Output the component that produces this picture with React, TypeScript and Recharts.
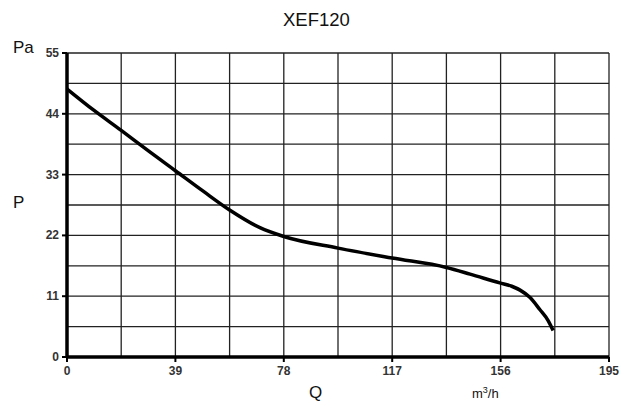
import { LineChart, Line, XAxis, YAxis, CartesianGrid } from 'recharts';

const flow = [0, 9.5, 19.5, 28.7, 39, 49, 58.5, 69.4, 78, 97.5, 117, 136.5, 145, 155.7, 160, 163, 166.5, 170.1, 173.1, 174.9];
const pressure = [48.5, 44.7, 41.0, 37.5, 33.7, 30.0, 26.6, 23.4, 21.8, 19.7, 17.9, 16.2, 15.0, 13.4, 12.8, 12.1, 10.8, 8.6, 6.6, 4.8];

const xGrid = [0, 19.5, 39, 58.5, 78, 97.5, 117, 136.5, 156, 175.5, 195];
const yGrid = [0, 5.5, 11, 16.5, 22, 27.5, 33, 38.5, 44, 49.5, 55];
const xLabels = [0, 39, 78, 117, 156, 195];
const yLabels = [0, 11, 22, 33, 44, 55];

const data = flow.map((q, i) => ({ q, p: pressure[i] }));

const font = '"Liberation Sans", Arial, sans-serif';

const XTick = (props: any) => {
  const { x, y, payload } = props;
  if (!xLabels.includes(payload.value)) return null;
  return (
    <g>
      <line x1={x} x2={x} y1={y - 8} y2={y - 3} stroke="#000" strokeWidth={2} />
      <text x={x} y={y + 10} textAnchor="middle" fontSize={12} fontWeight="bold" fontFamily={font} fill="#333">
        {payload.value}
      </text>
    </g>
  );
};

const YTick = (props: any) => {
  const { x, y, payload } = props;
  if (!yLabels.includes(payload.value)) return null;
  return (
    <g>
      <line x1={x + 3} x2={x + 8} y1={y} y2={y} stroke="#000" strokeWidth={2} />
      <text x={x} y={y + 4} textAnchor="end" fontSize={12} fontWeight="bold" fontFamily={font} fill="#333">
        {payload.value}
      </text>
    </g>
  );
};

export default function App() {
  return (
    <div style={{ position: 'fixed', left: 0, top: 0, width: 621, height: 404, background: '#fff', fontFamily: font }}>
      <div style={{ position: 'absolute', left: 283, top: 9, fontSize: 18.5, color: '#111' }}>
        XEF120
      </div>
      <div style={{ position: 'absolute', left: 13, top: 38, fontSize: 17, color: '#111' }}>Pa</div>
      <div style={{ position: 'absolute', left: 13, top: 193, fontSize: 17, color: '#111' }}>P</div>
      <div style={{ position: 'absolute', left: 309, top: 383, fontSize: 17, color: '#111' }}>Q</div>
      <div style={{ position: 'absolute', left: 472, top: 385, fontSize: 13, color: '#111' }}>
        m<sup style={{ fontSize: 9 }}>3</sup>/h
      </div>
      <LineChart width={621} height={404} data={data} margin={{ top: 53, right: 12, left: 37, bottom: 17 }}>
        <CartesianGrid stroke="#222" strokeWidth={1.3} />
        <XAxis
          dataKey="q"
          type="number"
          domain={[0, 195]}
          ticks={xGrid}
          interval={0}
          axisLine={{ stroke: '#000', strokeWidth: 3.5 }}
          tickLine={false}
          tickSize={5}
          tickMargin={3}
          height={30}
          tick={<XTick />}
        />
        <YAxis
          type="number"
          domain={[0, 55]}
          ticks={yGrid}
          interval={0}
          axisLine={{ stroke: '#000', strokeWidth: 3.5 }}
          tickLine={false}
          tickSize={5}
          tickMargin={3}
          width={30}
          tick={<YTick />}
        />
        <Line
          dataKey="p"
          type="monotone"
          stroke="#000"
          strokeWidth={3.5}
          dot={false}
          isAnimationActive={false}
        />
      </LineChart>
    </div>
  );
}
